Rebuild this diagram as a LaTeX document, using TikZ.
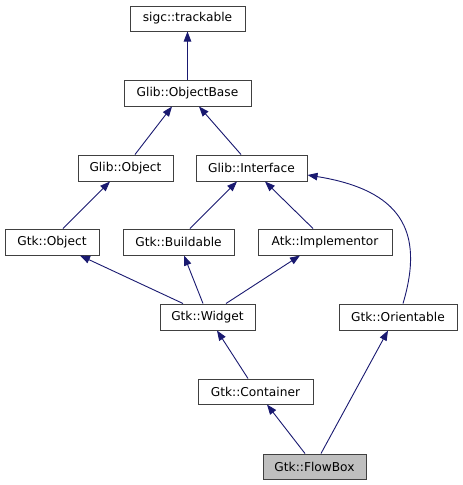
\documentclass[tikz,border=0pt]{standalone}
\usepackage{fontspec}
\setmainfont{DejaVu Sans}
\usetikzlibrary{arrows.meta}
\definecolor{edgec}{HTML}{191970}
\definecolor{boxc}{HTML}{404040}
\definecolor{curc}{HTML}{BFBFBF}
\begin{document}
\begin{tikzpicture}[x=1pt,y=-1pt,
  cls/.style={draw=boxc,line width=1pt,fill=white,inner sep=0pt,minimum height=26pt,
    font=\fontsize{12.2}{14}\selectfont},
  inh/.style={draw=edgec,line width=0.9pt,-{Triangle[length=10pt,width=7.5pt]},color=edgec}]
\useasboundingbox (0,0) rectangle (463,485);
\node[cls,minimum width=115pt,minimum height=25pt] (trk) at (187.5,18.5) {sigc::trackable};
\node[cls,minimum width=127pt] (ob) at (187.5,93) {Glib::ObjectBase};
\node[cls,minimum width=95pt] (go) at (125.5,168) {Glib::Object};
\node[cls,minimum width=111pt] (gi) at (251.5,168) {Glib::Interface};
\node[cls,minimum width=94pt] (to) at (52,242) {Gtk::Object};
\node[cls,minimum width=111pt] (bu) at (178.5,242) {Gtk::Buildable};
\node[cls,minimum width=134pt] (im) at (325,242) {Atk::Implementor};
\node[cls,minimum width=95pt] (wi) at (207.5,317) {Gtk::Widget};
\node[cls,minimum width=118pt] (or) at (398,317) {Gtk::Orientable};
\node[cls,minimum width=115pt,minimum height=25pt] (co) at (255.5,391.5) {Gtk::Container};
\node[cls,minimum width=103pt,minimum height=25pt,fill=curc] (fb) at (314.5,466.5) {Gtk::FlowBox};
\draw[inh] (ob.north) -- (trk.south);
\draw[inh] ([xshift=9.5pt]go.north) -- ([xshift=-15.5pt]ob.south);
\draw[inh] ([xshift=-10.5pt]gi.north) -- ([xshift=11.5pt]ob.south);
\draw[inh] ([xshift=11pt]to.north) -- ([xshift=-15.5pt]go.south);
\draw[inh] ([xshift=11.5pt]bu.north) -- ([xshift=-14.5pt]gi.south);
\draw[inh] ([xshift=-12pt]im.north) -- ([xshift=13.5pt]gi.south);
\draw[inh] ([xshift=5pt]or.north) .. controls (425,230) and (400,190) .. ([yshift=-7pt]gi.east);
\draw[inh] ([xshift=-24.5pt]wi.north) -- ([xshift=28pt]to.south);
\draw[inh] ([xshift=-4.5pt]wi.north) -- ([xshift=5.5pt]bu.south);
\draw[inh] ([xshift=18.5pt]wi.north) -- ([xshift=-25pt]im.south);
\draw[inh] ([xshift=-7.5pt]co.north) -- ([xshift=9.5pt]wi.south);
\draw[inh] ([xshift=-9.5pt]fb.north) -- ([xshift=11.5pt]co.south);
\draw[inh] ([xshift=6.5pt]fb.north) -- ([xshift=-10pt]or.south);
\end{tikzpicture}
\end{document}
